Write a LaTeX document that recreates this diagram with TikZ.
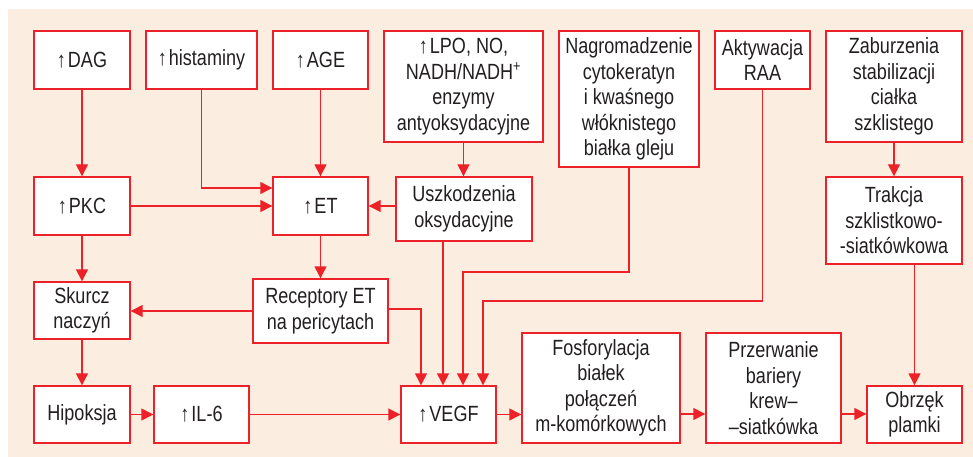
\documentclass[tikz,border=0pt]{standalone}
\usepackage{fontspec}
\setmainfont{Liberation Sans}[FakeStretch=0.82]
\usetikzlibrary{arrows.meta}
\definecolor{bgc}{RGB}{252,237,225}
\definecolor{redc}{RGB}{237,34,40}
\definecolor{txtc}{RGB}{35,31,32}
\tikzset{
  box/.style={draw=redc, line width=1.4pt, fill=white, align=center, inner sep=0pt, text=txtc,
    font=\fontsize{22}{25.5}\selectfont},
  arr/.style={draw=redc, line width=1.4pt, -{Triangle[length=12pt,width=12pt]}},
}
\newcommand{\up}{\char"2191\hspace{2pt}}
\begin{document}
\begin{tikzpicture}[x=1pt,y=-1pt]
\useasboundingbox (0,0) rectangle (973,457);
\fill[bgc] (8,9) rectangle (973,457);
% row 1
\node[box, minimum width=96, minimum height=58] (dag) at (82,60) {\up DAG};
\node[box, minimum width=111, minimum height=58] (hist) at (201.5,60) {\up histaminy};
\node[box, minimum width=95, minimum height=58] (age) at (320.5,60) {\up AGE};
\node[box, minimum width=159, minimum height=111] (lpo) at (463.5,86.5) {\up LPO, NO,\\NADH/NADH\textsuperscript{+}\\enzymy\\antyoksydacyjne};
\node[box, minimum width=140, minimum height=136] (nag) at (629,99) {Nagromadzenie\\cytokeratyn\\i kwaśnego\\włóknistego\\białka gleju};
\node[box, minimum width=95, minimum height=58] (raa) at (762.5,60) {Aktywacja\\RAA};
\node[box, minimum width=136, minimum height=111] (zab) at (894,86.5) {Zaburzenia\\stabilizacji\\ciałka\\szklistego};
% row 2
\node[box, minimum width=96, minimum height=58] (pkc) at (82,206) {\up PKC};
\node[box, minimum width=95, minimum height=58] (et) at (320.5,206) {\up ET};
\node[box, minimum width=136, minimum height=64] (usz) at (464,209) {Uszkodzenia\\oksydacyjne};
\node[box, minimum width=136, minimum height=87] (trak) at (894,220.5) {Trakcja\\szklistkowo-\\-siatkówkowa};
% row 3
\node[box, minimum width=96, minimum height=57] (skur) at (82,310.5) {Skurcz\\naczyń};
\node[box, minimum width=135, minimum height=64] (rec) at (320.5,311) {Receptory ET\\na pericytach};
% row 4
\node[box, minimum width=96, minimum height=57] (hip) at (82,414.5) {Hipoksja};
\node[box, minimum width=95, minimum height=57] (il) at (201.5,414.5) {\up IL-6};
\node[box, minimum width=95, minimum height=57] (vegf) at (448.5,414.5) {\up VEGF};
\node[box, minimum width=158, minimum height=110] (fos) at (601,388) {Fosforylacja\\białek\\połączeń\\m-komórkowych};
\node[box, minimum width=135, minimum height=110] (prz) at (773.5,388) {Przerwanie\\bariery\\krew--\\--siatkówka};
\node[box, minimum width=95, minimum height=57] (obr) at (914.5,414.5) {Obrzęk\\plamki};
% connectors
\draw[arr] (dag) -- (pkc);
\draw[arr] (hist.south) |- (et.west |- 0,188);
\draw[arr] (pkc) -- (et);
\draw[arr] (age) -- (et);
\draw[arr] (lpo.south) -- (lpo.south |- usz.north);
\draw[arr] (usz.west |- 0,206) -- (et.east |- 0,206);
\draw[arr] (et) -- (rec);
\draw[arr] (pkc) -- (skur);
\draw[arr] (rec.west |- 0,311) -- (skur.east |- 0,311);
\draw[arr] (skur) -- (hip);
\draw[arr] (hip) -- (il);
\draw[arr] (il) -- (vegf);
\draw[arr] (rec.east |- 0,309) -| ([xshift=-27.5]vegf.north);
\draw[arr] ([xshift=-5.5]vegf.north |- usz.south) -- ([xshift=-5.5]vegf.north);
\draw[arr] (nag.south) |- ([xshift=14.5]vegf.north |- 0,272) -- ([xshift=14.5]vegf.north);
\draw[arr] (raa.south) |- ([xshift=34.5]vegf.north |- 0,301) -- ([xshift=34.5]vegf.north);
\draw[arr] (vegf.east) -- (fos.west |- vegf.east);
\draw[arr] (fos.east |- 0,414) -- (prz.west |- 0,414);
\draw[arr] (prz.east |- 0,414) -- (obr.west |- 0,414);
\draw[arr] (zab) -- (trak);
\draw[arr] (trak.south -| obr.north) -- (obr.north);
\end{tikzpicture}
\end{document}
